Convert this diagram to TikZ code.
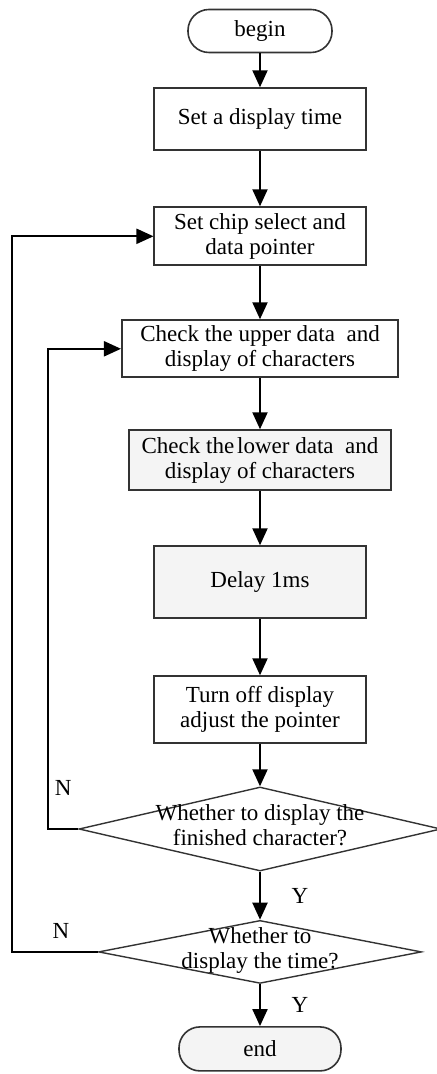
\documentclass[tikz,border=0pt]{standalone}
\usepackage{fontspec}
\setmainfont{Liberation Serif}
\usepackage{tikz}
\usetikzlibrary{positioning,arrows.meta,shapes.geometric}
\definecolor{FCLine}{HTML}{333333}
\definecolor{FCFill}{HTML}{F4F4F4}
% 菱形内文字不参与尺寸计算
\newcommand{\diatext}[1]{\makebox[0pt]{\smash{\raisebox{-2.5pt}{\begin{tabular}{@{}c@{}}#1\end{tabular}}}}}

\begin{document}
\begin{tikzpicture}[
    font=\fontsize{11.5}{12.5}\selectfont,
    term/.style={
      draw=FCLine,
      line width=0.8pt,
      rounded corners=10.5pt,
      minimum width=72pt,
      minimum height=21.5pt,
      inner sep=0pt
    },
    box/.style={
      draw=FCLine,
      line width=1pt,
      minimum width=105.5pt,
      align=center,
      inner sep=2pt
    },
    shadebox/.style={
      box,
      fill=FCFill
    },
    decision/.style={
      diamond,
      draw=FCLine,
      line width=0.7pt,
      inner sep=0pt
    },
    arrow/.style={
      -{Triangle[length=8.5pt,width=7.5pt]},
      line width=1pt,
      black
    },
    line/.style={
      line width=1pt,
      FCLine
    }
  ]

  \useasboundingbox (-130pt,15.5pt) rectangle (88pt,-521.5pt);

  % 主流程
  \node[term] (begin) {begin};
  \node[box, minimum height=31pt, below=17pt of begin] (settime) {Set a display time};
  \node[box, minimum height=29pt, below=27.5pt of settime] (chip) {Set chip select and\\data pointer};
  \node[box, minimum width=138pt, minimum height=28.5pt, below=26.5pt of chip] (upper) {Check the upper data \ and\\display of characters};
  \node[shadebox, minimum width=131pt, minimum height=30pt, below=25.5pt of upper] (lower) {Check the\hspace{1.5pt}lower data \ and\\display of characters};
  \node[shadebox, minimum height=36pt, below=27pt of lower] (delay) {Delay 1ms};
  \node[box, minimum height=33.5pt, below=28pt of delay] (turnoff) {Turn off display\\adjust the pointer};

  % 判断
  \node[decision, minimum width=181pt, minimum height=42pt, below=21pt of turnoff] (finish) {\diatext{Whether to display the\\finished character?}};
  \node[decision, minimum width=161.5pt, minimum height=31.5pt, below=24pt of finish] (dtime) {\diatext{Whether to\\display the time?}};
  \node[term, fill=FCFill, minimum width=81pt, minimum height=22pt, below=21pt of dtime] (end) {end};

  % 箭头
  \draw[arrow] (begin) -- (settime);
  \draw[arrow] (settime) -- (chip);
  \draw[arrow] (chip) -- (upper);
  \draw[arrow] (upper) -- (lower);
  \draw[arrow] (lower) -- (delay);
  \draw[arrow] (delay) -- (turnoff);
  \draw[arrow] (turnoff) -- (finish);
  \draw[arrow] (finish) -- node[right=12pt] {Y} (dtime);
  \draw[arrow] (dtime) -- node[right=12pt] {Y} (end);

  % 回路
  \draw[arrow] (finish.west) -- node[above=13pt] {N} ++(-15pt,0) |- (upper.west);
  \draw[arrow] (dtime.west) -- node[above=3pt, pos=0.43] {N} ++(-43pt,0) |- (chip.west);

\end{tikzpicture}
\end{document}
